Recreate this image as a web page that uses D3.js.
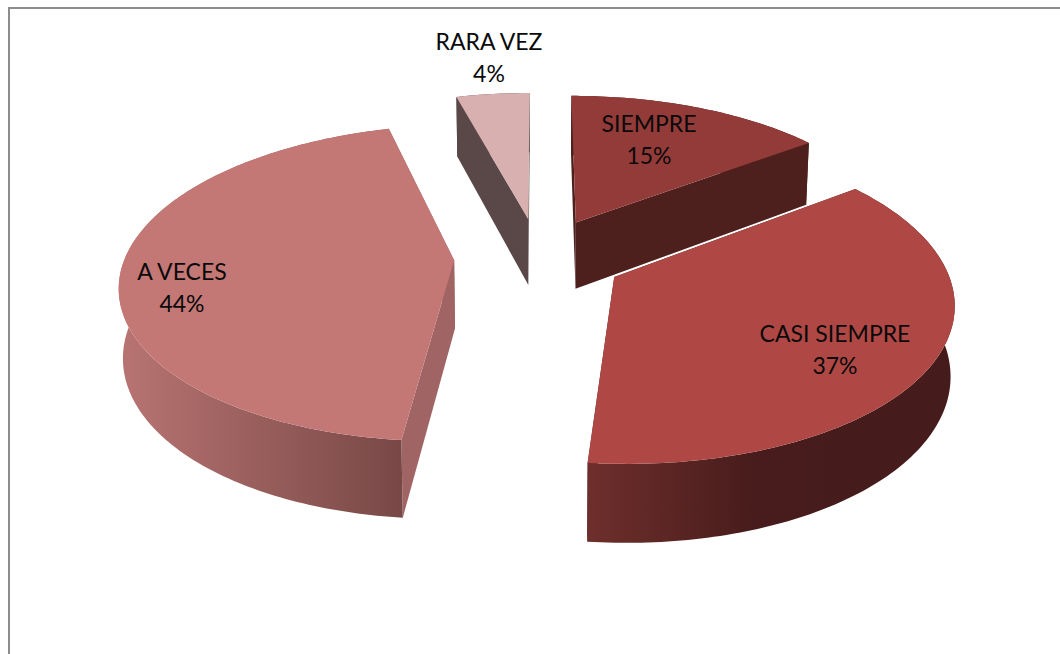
<!DOCTYPE html>
<html><head><meta charset="utf-8">
<style>html,body{margin:0;padding:0;background:#fff}svg{display:block}</style>
<script src="https://cdn.jsdelivr.net/npm/d3@7/dist/d3.min.js"></script>
</head><body><div id="c"></div>
<script>
const categories = ["SIEMPRE","CASI SIEMPRE","A VECES","RARA VEZ"];
const values = [14.8,36.8,44.2,4.2];
const topColors = ["#933B39","#AF4845","#C47876","#D9B0B0"];
const radialWallColors = ["#4E201D","#48201D","#A06464","#5A4848"];
const wallStops = [
  [["0","#4E201D"],["1","#4E201D"]],
  [["0","#6E2F2C"],["0.45","#481C1C"],["1","#451B1B"]],
  [["0","#B87472"],["1","#784846"]],
  [["0","#5A4848"],["1","#5A4848"]]
];
const labelAnchors = [[649,132],[835,342],[182,280],[489,50]];

const W=1060,H=654;
const cx=539,cy=257,rx=329,ry=154,k=1/7,explode=0.258,depth=68,bottomScale=0.99,rotationDeg=0;

const svg=d3.select("#c").append("svg").attr("width",W).attr("height",H);
const defs=svg.append("defs");
svg.append("rect").attr("width",W).attr("height",H).attr("fill","#fff");
svg.append("path").attr("d",`M9 ${H}V8H${W}`).attr("fill","none").attr("stroke","#8c8c8c").attr("stroke-width",2);

const pie=d3.pie().sort(null).value(d=>d)
  .startAngle(rotationDeg*Math.PI/180).endAngle(2*Math.PI+rotationDeg*Math.PI/180);
const arcs=pie(values);

function proj(u,v,bottom){
  const s=1/(1-k*v);
  const X=rx*u*s,Y=ry*v*s;
  return bottom?[cx+X*bottomScale,cy+Y*bottomScale+depth*s]:[cx+X,cy+Y];
}
const line=d3.line();
const slices=arcs.map((a,i)=>{
  const mid=(a.startAngle+a.endAngle)/2;
  const eu=explode*Math.sin(mid),ev=-explode*Math.cos(mid);
  const n=Math.max(4,Math.ceil((a.endAngle-a.startAngle)*180/Math.PI));
  const angles=d3.range(n+1).map(j=>a.startAngle+(a.endAngle-a.startAngle)*j/n);
  const pt=(t,b)=>proj(eu+Math.sin(t),ev-Math.cos(t),b);
  const apex=b=>proj(eu,ev,b);
  return {i,angles,pt,apex,
    topPts:angles.map(t=>pt(t,false)),botPts:angles.map(t=>pt(t,true))};
});

slices.forEach(s=>{
  const xs=s.topPts.concat(s.botPts).map(p=>p[0]);
  const g=defs.append("linearGradient").attr("id","wall"+s.i).attr("gradientUnits","userSpaceOnUse")
    .attr("x1",d3.min(xs)).attr("x2",d3.max(xs)).attr("y1",0).attr("y2",0);
  wallStops[s.i].forEach(st=>g.append("stop").attr("offset",st[0]).attr("stop-color",st[1]));
});

// painter's order, back to front
[3,0,2,1].forEach(i=>{
  const s=slices[i];
  const g=svg.append("g");
  const a0=s.angles[0],a1=s.angles[s.angles.length-1];
  [a0,a1].forEach(t=>{
    g.append("path").attr("d",line([s.apex(false),s.pt(t,false),s.pt(t,true),s.apex(true)])+"Z")
      .attr("fill",radialWallColors[i]);
  });
  g.append("path").attr("d",line(s.topPts.concat(s.botPts.slice().reverse()))+"Z")
    .attr("fill",`url(#wall${i})`);
  g.append("path").attr("d",line([s.apex(false)].concat(s.topPts))+"Z")
    .attr("fill",topColors[i]);
});

const labels=svg.append("g").attr("font-family","Lato, Carlito, sans-serif").attr("font-size",23)
  .attr("fill","#0a0a0a").attr("text-anchor","middle");
categories.forEach((c,i)=>{
  const [x,y]=labelAnchors[i];
  labels.append("text").attr("x",x).attr("y",y).text(c);
  labels.append("text").attr("x",x).attr("y",y+32).text(Math.round(values[i])+"%");
});
</script></body></html>
